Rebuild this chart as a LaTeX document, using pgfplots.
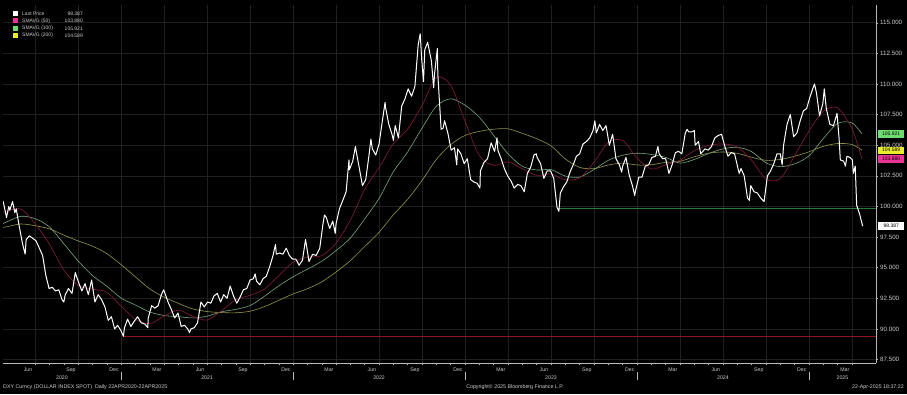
\documentclass[border=0pt]{standalone}
\usepackage{fontspec}
\setmainfont{Liberation Sans}
\usepackage{pgfplots}
\usepackage{pgfplotstable}
\pgfplotsset{compat=1.18}
\definecolor{gridc}{RGB}{32,32,32}
\definecolor{axc}{RGB}{185,185,185}
\definecolor{labc}{RGB}{205,205,205}
\definecolor{maA}{RGB}{120,25,55}
\definecolor{maB}{RGB}{120,165,125}
\definecolor{maC}{RGB}{150,150,75}
\definecolor{boxA}{RGB}{235,50,150}
\definecolor{boxB}{RGB}{110,220,110}
\definecolor{boxC}{RGB}{235,235,45}
\definecolor{lineG}{RGB}{40,120,55}
\definecolor{lineR}{RGB}{140,20,35}

\pgfplotstableread{
m a b c
3.75 99.5 98.6 98.3
4 99.61 98.73 98.34
5 99.79 99.20 98.57
6 98.58 99.0 98.43
7 96.91 98.33 98.17
8 94.82 96.96 97.66
9 93.55 95.55 97.19
10 93.25 94.36 96.76
11 92.99 93.49 96.15
12 91.86 92.52 95.25
13 90.79 91.95 94.25
14 90.43 91.38 93.27
15 91.05 91.1 92.59
16 91.54 91.0 92.09
17 91.03 90.9 91.64
18 90.73 91.04 91.42
19 91.48 91.4 91.34
20 92.38 91.6 91.32
21 92.75 91.91 91.45
22 93.26 92.67 91.82
23 94.34 93.52 92.34
24 95.44 94.26 92.86
25 95.86 94.88 93.28
26 95.98 95.53 93.84
27 97.01 96.4 94.66
28 98.89 97.43 95.58
29 101.40 98.99 96.73
30 103.17 100.66 97.89
31 105.13 102.84 99.33
32 106.32 104.46 100.59
33 108.25 106.4 102.13
34 110.52 108.19 103.84
35 109.9 108.79 105.05
36 106.95 108.27 105.8
37 104.15 107.28 106.13
38 103.36 105.8 106.31
39 103.64 104.3 106.34
40 103.08 103.28 105.97
41 102.54 102.98 105.53
42 102.65 103.01 104.95
43 102.18 102.48 103.88
44 102.33 102.4 103.19
45 103.62 103.02 103.09
46 105.24 103.77 103.39
47 105.38 104.18 103.54
48 103.97 104.35 103.39
49 103.06 104.25 103.41
50 103.4 104.01 103.6
51 103.77 103.54 103.69
52 104.56 103.84 104.06
53 104.99 104.33 104.35
54 105.1 104.7 104.45
55 104.86 104.83 104.34
56 103.77 104.48 104.02
57 102.23 103.57 103.77
58 102.28 103.25 103.84
59 104.14 103.48 104.1
60 106.15 104.13 104.46
61 107.77 105.54 104.91
62 108.05 106.78 105.14
63 106.36 106.83 105.06
63.7 103.88 105.92 104.59
}\matab

\begin{document}
\begin{tikzpicture}[x=1pt,y=1pt]
\path[use as bounding box, fill=black] (0,0) rectangle (907,394);
\begin{axis}[
  at={(3pt,31pt)}, anchor=south west,
  scale only axis, width=873pt, height=358pt,
  xmin=3.755, xmax=64.68, ymin=87.22, ymax=116.45,
  axis x line*=bottom, axis y line*=right,
  axis line style={draw=axc, line width=0.6pt},
  clip mode=individual,
  tick align=outside,
  xtick={6,9,...,63}, xticklabels={},
  minor x tick num=2,
  major tick length=2pt, minor tick length=1.5pt,
  tick style={draw=axc, line width=0.5pt},
  xmajorgrids, ymajorgrids,
  major grid style={draw=gridc, line width=0.6pt},
  extra x ticks={5.5,8.5,11.5,14.5,17.5,20.5,23.5,26.5,29.5,32.5,35.5,38.5,41.5,44.5,47.5,50.5,53.5,56.5,59.5,62.5},
  extra x tick labels={Jun,Sep,Dec,Mar,Jun,Sep,Dec,Mar,Jun,Sep,Dec,Mar,Jun,Sep,Dec,Mar,Jun,Sep,Dec,Mar},
  extra x tick style={grid=none, major tick length=0pt,
     xticklabel style={font=\fontsize{5.2}{5.2}\selectfont, text=labc, inner sep=0pt, yshift=-4.5pt}},
  ytick={87.5,90,92.5,95,97.5,100,102.5,105,107.5,110,112.5,115},
  yticklabel={\pgfmathprintnumber[fixed,fixed zerofill,precision=3,assume math mode=true]{\tick}},
  yticklabel style={font=\fontsize{6.2}{6.2}\selectfont, text=labc, inner sep=0pt, xshift=2pt},
]
% horizontal support lines
\addplot[lineR, line width=0.8pt] coordinates {(12.2,89.4) (64.68,89.4)};
\addplot[lineG, line width=0.8pt] coordinates {(42.5,99.85) (64.68,99.85)};
% moving averages
\addplot[maC, line width=0.6pt, smooth] table[x=m,y=c]{\matab};
\addplot[maB, line width=0.6pt, smooth] table[x=m,y=b]{\matab};
\addplot[maA, line width=0.7pt, smooth] table[x=m,y=a]{\matab};
% last price
\addplot[white, line width=1pt, line join=round] coordinates {
(3.70,100.4) (3.77,100.4) (3.93,99.5) (4.0,99.1) (4.16,100.0) (4.23,99.7) (4.42,100.4) (4.58,99.5) (4.68,99.8) (4.90,98.3)
(5.13,96.9) (5.30,96.1) (5.37,97.3) (5.60,97.6) (5.83,97.4) (6.06,97.2) (6.29,96.6) (6.52,96.0) (6.74,94.4) (6.97,93.3)
(7.19,93.4) (7.42,93.1) (7.65,93.2) (7.87,92.4) (8.0,92.2) (8.10,92.8) (8.33,93.3) (8.57,92.9) (8.80,94.6) (9.03,93.8)
(9.26,93.1) (9.48,93.7) (9.71,92.8) (9.94,94.0) (10.17,92.2) (10.40,92.8) (10.63,92.4) (10.87,91.8) (11.10,90.7) (11.32,91.0)
(11.55,90.0) (11.75,90.3) (11.97,89.9) (12.16,89.4) (12.23,90.1) (12.45,90.8) (12.68,90.2) (12.90,90.6) (13.15,91.0) (13.40,90.5)
(13.65,90.4) (13.86,90.1) (13.89,90.9) (14.13,91.9) (14.35,91.7) (14.58,91.9) (14.81,92.8) (14.97,93.2) (15.27,92.2) (15.50,91.6)
(15.73,90.9) (15.97,91.3) (16.19,90.2) (16.42,90.3) (16.65,90.0) (16.77,89.7) (16.87,90.0) (17.10,90.1) (17.33,90.5) (17.57,92.2)
(17.80,91.8) (18.03,92.2) (18.26,92.1) (18.48,92.7) (18.71,92.9) (18.94,92.2) (19.16,92.8) (19.39,92.5) (19.61,93.5) (19.84,92.7)
(20.07,92.1) (20.30,92.6) (20.53,93.2) (20.77,93.3) (21.0,94.0) (21.23,94.1) (21.35,94.5) (21.45,93.9) (21.68,93.6) (21.90,94.1)
(22.13,94.3) (22.37,95.1) (22.60,96.0) (22.77,96.9) (22.83,96.1) (23.06,96.2) (23.29,96.1) (23.52,96.6) (23.74,96.0) (23.97,95.7)
(24.19,95.7) (24.42,95.2) (24.65,95.6) (24.87,97.3) (25.11,95.5) (25.36,96.1) (25.61,96.0) (25.86,96.6) (26.10,98.7) (26.19,99.3)
(26.32,99.1) (26.55,98.2) (26.77,98.8) (26.94,97.8) (27.0,98.6) (27.23,99.8) (27.47,100.5) (27.70,101.2) (27.90,103.8) (27.93,103.0)
(28.16,103.7) (28.35,104.9) (28.39,104.6) (28.61,103.2) (28.84,101.7) (29.07,102.2) (29.30,104.2) (29.43,105.5) (29.53,104.7) (29.77,104.2)
(30.0,105.1) (30.23,107.0) (30.42,108.5) (30.45,108.1) (30.68,106.7) (30.90,105.9) (31.0,105.4) (31.13,106.6) (31.35,105.6) (31.58,108.2)
(31.81,108.8) (32.03,109.6) (32.27,109.0) (32.50,109.8) (32.73,113.2) (32.87,114.1) (32.97,112.1) (33.10,110.2) (33.19,112.8) (33.39,113.4)
(33.65,111.9) (33.81,109.7) (33.87,110.8) (34.07,112.9) (34.10,110.8) (34.33,106.3) (34.47,106.4) (34.57,107.0) (34.80,106.0) (35.03,104.6)
(35.26,104.8) (35.42,103.4) (35.48,104.7) (35.71,104.3) (35.94,103.5) (36.16,103.9) (36.39,102.2) (36.61,102.0) (36.84,101.9) (37.04,101.5)
(37.07,102.9) (37.32,103.6) (37.57,103.9) (37.82,105.2) (38.06,104.5) (38.23,105.6) (38.29,104.6) (38.52,103.9) (38.74,103.1) (38.97,102.5)
(39.20,102.1) (39.43,101.5) (39.67,101.8) (39.90,101.7) (40.13,101.2) (40.35,102.7) (40.58,103.2) (40.81,104.2) (40.97,104.3) (41.03,104.0)
(41.27,103.5) (41.50,102.3) (41.73,102.9) (41.97,102.9) (42.19,102.3) (42.42,99.9) (42.55,99.6) (42.65,101.1) (42.87,101.6) (43.10,102.0)
(43.32,102.8) (43.55,103.4) (43.77,104.1) (44.0,104.3) (44.23,105.1) (44.47,105.3) (44.70,105.6) (44.93,106.2) (45.06,107.0) (45.16,106.0)
(45.39,106.7) (45.61,106.2) (45.84,106.6) (46.07,105.0) (46.30,105.9) (46.53,103.9) (46.77,103.4) (46.93,102.8) (47.0,103.3) (47.23,104.0)
(47.45,102.6) (47.68,101.7) (47.84,100.9) (47.90,101.3) (48.13,102.4) (48.35,102.4) (48.58,103.3) (48.81,103.4) (49.04,104.0) (49.29,104.1)
(49.46,104.9) (49.54,104.3) (49.79,103.9) (50.0,103.9) (50.23,102.7) (50.45,103.4) (50.68,104.4) (50.90,104.5) (51.13,104.3) (51.37,106.0)
(51.50,106.3) (51.60,106.1) (51.83,106.1) (52.0,106.2) (52.06,105.0) (52.29,105.3) (52.45,104.3) (52.52,104.4) (52.74,104.7) (52.97,104.6)
(53.20,104.9) (53.43,105.6) (53.67,105.8) (53.90,105.9) (54.13,104.9) (54.35,104.1) (54.58,104.4) (54.81,104.3) (55.03,103.2) (55.13,102.7)
(55.26,103.1) (55.48,102.5) (55.71,100.7) (55.84,100.5) (55.94,101.7) (56.17,101.2) (56.40,101.1) (56.63,100.7) (56.87,100.4) (57.10,102.5)
(57.32,102.9) (57.55,103.5) (57.77,104.3) (58.0,104.3) (58.13,103.4) (58.23,105.0) (58.47,106.7) (58.70,107.5) (58.93,105.7) (59.16,106.0)
(59.39,107.0) (59.61,107.8) (59.84,108.0) (60.06,108.9) (60.29,109.7) (60.39,110.0) (60.52,109.3) (60.74,107.4) (60.97,108.4) (61.07,109.6)
(61.21,108.0) (61.46,106.7) (61.71,106.6) (61.96,107.6) (62.10,105.6) (62.19,103.8) (62.42,103.7) (62.55,103.3) (62.65,104.1) (62.87,104.0)
(63.03,103.8) (63.10,102.7) (63.23,103.3) (63.33,100.1) (63.53,99.4) (63.75,98.39)
};
% value boxes on the right
\node[fill=boxB, text=black, anchor=west, inner sep=0pt, minimum height=7.5pt, minimum width=26pt, font=\fontsize{5}{5}\selectfont] at ([xshift=2pt]axis cs:64.68,105.921) {105.921};
\node[fill=boxC, text=black, anchor=west, inner sep=0pt, minimum height=7.5pt, minimum width=26pt, font=\fontsize{5}{5}\selectfont] at ([xshift=2pt]axis cs:64.68,104.589) {104.589};
\node[fill=boxA, text=black, anchor=west, inner sep=0pt, minimum height=7.5pt, minimum width=26pt, font=\fontsize{5}{5}\selectfont] at ([xshift=2pt]axis cs:64.68,103.880) {103.880};
\node[fill=white, text=black, anchor=west, inner sep=0pt, minimum height=7.5pt, minimum width=26pt, font=\fontsize{5}{5}\selectfont] at ([xshift=2pt]axis cs:64.68,98.387) {98.387};
% year labels and separators
\node[font=\fontsize{5.2}{5.2}\selectfont, text=labc, inner sep=0pt] at ([yshift=-15pt]axis cs:7.87,87.22) {2020};
\node[font=\fontsize{5.2}{5.2}\selectfont, text=labc, inner sep=0pt] at ([yshift=-15pt]axis cs:18,87.22) {2021};
\node[font=\fontsize{5.2}{5.2}\selectfont, text=labc, inner sep=0pt] at ([yshift=-15pt]axis cs:30,87.22) {2022};
\node[font=\fontsize{5.2}{5.2}\selectfont, text=labc, inner sep=0pt] at ([yshift=-15pt]axis cs:42,87.22) {2023};
\node[font=\fontsize{5.2}{5.2}\selectfont, text=labc, inner sep=0pt] at ([yshift=-15pt]axis cs:54,87.22) {2024};
\node[font=\fontsize{5.2}{5.2}\selectfont, text=labc, inner sep=0pt] at ([yshift=-15pt]axis cs:62.34,87.22) {2025};
\draw[axc, line width=0.5pt] ([yshift=-9pt]axis cs:12,87.22) -- ([yshift=-17pt]axis cs:12,87.22);
\draw[axc, line width=0.5pt] ([yshift=-9pt]axis cs:24,87.22) -- ([yshift=-17pt]axis cs:24,87.22);
\draw[axc, line width=0.5pt] ([yshift=-9pt]axis cs:36,87.22) -- ([yshift=-17pt]axis cs:36,87.22);
\draw[axc, line width=0.5pt] ([yshift=-9pt]axis cs:48,87.22) -- ([yshift=-17pt]axis cs:48,87.22);
\draw[axc, line width=0.5pt] ([yshift=-9pt]axis cs:60,87.22) -- ([yshift=-17pt]axis cs:60,87.22);
\end{axis}
% legend
\begin{scope}[font=\fontsize{5}{5}\selectfont]
\fill[white] (13,378.2) rectangle ++(5,5);
\node[anchor=west, inner sep=0pt, text=labc] at (22,380.7) {Last Price};
\node[anchor=east, inner sep=0pt, text=labc] at (83,380.7) {98.387};
\fill[boxA] (13,370.5) rectangle ++(5,5);
\node[anchor=west, inner sep=0pt, text=labc] at (22,373) {SMAVG (50)};
\node[anchor=east, inner sep=0pt, text=labc] at (83,373) {103.880};
\fill[boxB] (13,363.2) rectangle ++(5,5);
\node[anchor=west, inner sep=0pt, text=labc] at (22,365.7) {SMAVG (100)};
\node[anchor=east, inner sep=0pt, text=labc] at (83,365.7) {105.921};
\fill[boxC] (13,355.8) rectangle ++(5,5);
\node[anchor=west, inner sep=0pt, text=labc] at (22,358.3) {SMAVG (200)};
\node[anchor=east, inner sep=0pt, text=labc] at (83,358.3) {104.589};
\end{scope}
% footer
\begin{scope}[font=\fontsize{5.3}{5.3}\selectfont, text=labc]
\node[anchor=west, inner sep=0pt] at (3,7) {DXY Curncy (DOLLAR INDEX SPOT)\ \ Daily 22APR2020-22APR2025};
\node[inner sep=0pt] at (515,7) {Copyright© 2025 Bloomberg Finance L.P.};
\node[anchor=east, inner sep=0pt] at (904,7) {22-Apr-2025 18:37:22};
\end{scope}
\end{tikzpicture}
\end{document}
